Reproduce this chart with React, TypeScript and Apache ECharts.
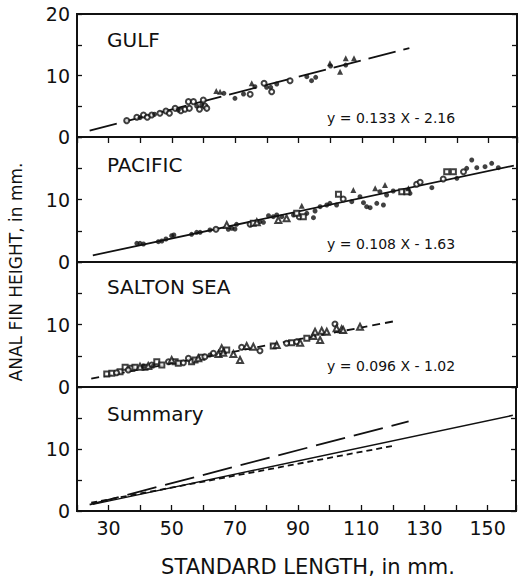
import React, { useEffect, useRef } from "react";
import * as echarts from "echarts";

// ---------- data ----------
const panelTitles = ["GULF", "PACIFIC", "SALTON SEA", "Summary"];
const equations = ["y = 0.133 X - 2.16", "y = 0.108 X - 1.63", "y = 0.096 X - 1.02"];
const xTickLabels = [30, 50, 70, 90, 110, 130, 150];

const gulfOpenCircles = [[35.7,2.66],[38.9,3.2],[41.0,3.58],[42.2,3.2],[43.6,3.58],[46.2,3.85],[48.1,4.23],[49.2,3.85],[51.0,4.66],[52.8,4.28],[54.1,4.5],[55.5,4.66],[55.2,5.75],[56.8,5.75],[58.7,4.5],[59.9,6.0],[60.4,5.04],[61.0,4.66],[74.7,6.94],[79.1,8.73],[81.5,7.37],[87.3,9.16]];
const gulfFilledCircles = [[39.9,3.14],[44.5,3.7],[52.0,4.39],[57.8,5.04],[59.4,5.2],[66.4,7.1],[69.9,6.29],[72.6,6.99],[76.2,8.18],[79.9,8.08],[81.2,8.08],[83.1,8.62],[92.6,9.81],[94.1,9.16],[95.4,9.7],[100.1,11.54],[104.9,11.7]];
const gulfFilledTriangles = [[64.0,7.5],[65.2,7.37],[75.2,8.73],[99.9,11.98],[103.1,10.6],[104.9,12.79],[107.5,12.79]];

const pacFilledCircles = [[38.9,2.99],[39.9,2.99],[41.0,2.88],[45.7,3.25],[46.8,3.36],[48.1,3.68],[49.9,4.21],[50.6,4.32],[56.2,4.43],[57.8,4.75],[58.9,4.75],[62.0,5.12],[67.8,5.23],[68.9,5.39],[69.9,5.28],[70.4,6.03],[77.8,6.45],[78.9,6.35],[80.5,7.41],[82.0,7.25],[83.1,7.52],[84.7,7.25],[88.4,7.52],[92.6,7.79],[94.7,7.09],[95.2,8.16],[96.8,8.85],[98.9,9.12],[99.9,9.39],[102.0,9.12],[106.8,9.65],[109.4,10.45],[110.5,9.49],[111.5,8.85],[112.6,8.69],[114.7,9.39],[115.7,11.25],[116.8,9.12],[117.8,10.72],[119.9,11.36],[125.2,10.99],[132.1,11.89],[140.0,13.39],[143.1,14.99],[144.7,16.32],[146.3,15.09],[148.9,15.25],[151.0,15.79],[153.1,15.09]];
const pacOpenCircles = [[63.9,5.23],[74.7,6.03],[90.2,7.25],[104.1,10.08],[127.3,12.43],[128.4,12.75],[135.7,13.28],[142.1,14.45]];
const pacOpenSquares = [[75.7,6.19],[89.4,7.79],[91.5,7.25],[102.6,10.83],[122.6,11.25],[124.2,11.25],[136.8,14.45],[138.9,14.45]];
const pacFilledTriangles = [[91.0,9.01],[107.3,11.52],[114.2,11.79],[117.3,12.32],[124.7,11.79]];
const pacOpenTriangles = [[67.3,5.92],[76.8,6.35],[83.6,6.72],[86.2,6.99]];

const saltonOpenSquares = [[29.4,2.08],[31.0,2.19],[33.6,2.45],[35.2,3.15],[37.3,2.99],[38.3,3.15],[41.5,3.15],[45.2,4.05],[46.8,3.52],[51.0,4.05],[52.0,3.79],[56.2,4.05],[57.3,4.32],[59.4,4.75],[67.3,5.92],[82.0,6.56],[87.8,7.09],[92.6,7.79]];
const saltonOpenCircles = [[32.5,2.29],[36.2,2.72],[43.6,3.52],[48.9,4.05],[53.6,3.89],[55.2,4.59],[60.4,4.85],[63.1,5.39],[72.0,6.35],[77.8,5.81],[86.2,6.99],[89.4,7.25],[101.5,10.08]];
const saltonOpenTriangles = [[39.9,3.25],[42.5,3.36],[49.9,4.32],[58.3,4.59],[64.7,5.28],[65.7,6.19],[66.2,5.49],[69.4,5.28],[71.5,4.32],[73.6,6.56],[75.7,6.45],[83.1,6.72],[90.5,7.09],[94.7,8.16],[95.2,8.85],[96.8,7.52],[97.3,9.01],[98.9,8.85],[102.0,9.39],[103.6,9.23],[104.1,9.12],[109.4,9.65]];
const saltonFilledCircles = [[41.0,3.36],[44.1,3.36],[62.0,5.12]];

const gulfLine = [[24, 1.03], [125, 14.47]];
const pacificLine = [[25, 1.07], [158, 15.43]];
const saltonLine = [[24.5, 1.33], [120, 10.5]];

// ---------- layout ----------
const FONT = "DejaVu Sans";
const INK = "#111111";
const panels = [
  { top: 14, height: 123 },
  { top: 137, height: 125 },
  { top: 262, height: 125 },
  { top: 387, height: 124 },
];

export default function App() {
  const ref = useRef<HTMLDivElement>(null);
  useEffect(() => {
    if (!ref.current) return;
    const chart = echarts.init(ref.current, undefined, { renderer: "svg" });

    const grid = panels.map((p) => ({
      left: 77, width: 440, top: p.top, height: p.height,
      show: true, borderColor: INK, borderWidth: 2, backgroundColor: "transparent",
    }));

    const xAxis: any[] = panels.map((_, i) => ({
      gridIndex: i, type: "value", min: 20, max: 159, interval: 10,
      axisLine: { show: false }, splitLine: { show: false },
      axisTick: { show: i === 3, inside: true, length: 6, lineStyle: { color: INK, width: 1.3 } },
      axisLabel: {
        show: i === 3, margin: 7, color: INK, fontFamily: FONT, fontSize: 19,
        formatter: (v: number) => (xTickLabels.includes(v) ? String(v) : ""),
      },
    }));
    xAxis.push({
      gridIndex: 0, type: "value", position: "top", min: 20, max: 159, interval: 10,
      axisLine: { show: false }, splitLine: { show: false },
      axisTick: { show: true, inside: true, length: 6, lineStyle: { color: INK, width: 1.3 } },
      axisLabel: { show: false },
    });

    const yAxis: any[] = [];
    panels.forEach((_, i) => {
      yAxis.push({
        gridIndex: i, type: "value", min: 0, max: 20, interval: 5, position: "left",
        axisLine: { show: false }, splitLine: { show: false },
        axisTick: { show: true, inside: true, length: 5, lineStyle: { color: INK, width: 1.3 } },
        axisLabel: {
          margin: 7, color: INK, fontFamily: FONT, fontSize: 19,
          formatter: (v: number) => (v === 0 ? "0" : v === 10 ? "10" : v === 20 && i === 0 ? "20" : ""),
        },
      });
    });
    panels.forEach((_, i) => {
      yAxis.push({
        gridIndex: i, type: "value", min: 0, max: 20, interval: 5, position: "right",
        axisLine: { show: false }, splitLine: { show: false },
        axisTick: { show: true, inside: true, length: 5, lineStyle: { color: INK, width: 1.3 } },
        axisLabel: { show: false },
      });
    });

    const scatter = (data: number[][], idx: number, symbol: string, size: number) => ({
      type: "scatter", xAxisIndex: idx, yAxisIndex: idx, data, symbol, symbolSize: size,
      itemStyle: { color: INK, borderColor: INK, borderWidth: symbol.startsWith("empty") ? 1 : 0 },
      z: 3,
    });
    const line = (data: number[][], idx: number, dash: any, width = 1.8) => ({
      type: "line", xAxisIndex: idx, yAxisIndex: idx, data, symbol: "none",
      lineStyle: { color: INK, width, type: dash }, z: 2,
    });

    const series = [
      line(gulfLine, 0, [28, 8]),
      scatter(gulfOpenCircles, 0, "emptyCircle", 5),
      scatter(gulfFilledCircles, 0, "circle", 5),
      scatter(gulfFilledTriangles, 0, "triangle", 6),

      line(pacificLine, 1, "solid"),
      scatter(pacFilledCircles, 1, "circle", 5),
      scatter(pacOpenCircles, 1, "emptyCircle", 5),
      scatter(pacOpenSquares, 1, "emptyRect", 5),
      scatter(pacFilledTriangles, 1, "triangle", 6),
      scatter(pacOpenTriangles, 1, "emptyTriangle", 6),

      line(saltonLine, 2, [8, 5]),
      scatter(saltonOpenSquares, 2, "emptyRect", 5),
      scatter(saltonOpenCircles, 2, "emptyCircle", 5),
      scatter(saltonOpenTriangles, 2, "emptyTriangle", 6),
      scatter(saltonFilledCircles, 2, "circle", 5),

      line(gulfLine, 3, [30, 9]),
      line(pacificLine, 3, "solid", 1.5),
      line(saltonLine, 3, [6, 4]),
    ];

    const titleTops = [33, 158, 280, 407];
    const eqTops = [112, 238, 360];
    const graphic: any[] = [];
    panelTitles.forEach((t, i) => {
      graphic.push({
        type: "text", left: 107, top: titleTops[i] - 3,
        style: { text: t, fill: INK, font: `20px "${FONT}"` },
      });
    });
    equations.forEach((t, i) => {
      graphic.push({
        type: "text", left: 327, top: eqTops[i] - 1,
        style: { text: t, fill: INK, font: `14px "${FONT}"` },
      });
    });
    graphic.push({
      type: "text", x: 16, y: 272, rotation: Math.PI / 2,
      style: { text: "ANAL FIN HEIGHT, in mm.", fill: INK, font: `17px "${FONT}"`, align: "center", verticalAlign: "middle" },
    });
    graphic.push({
      type: "text", x: 308, y: 567,
      style: { text: "STANDARD LENGTH, in mm.", fill: INK, font: `21px "${FONT}"`, align: "center", verticalAlign: "middle" },
    });

    chart.setOption({
      animation: false,
      backgroundColor: "#ffffff",
      grid, xAxis, yAxis, series, graphic,
    });
    return () => chart.dispose();
  }, []);

  return <div ref={ref} style={{ position: "fixed", left: 0, top: 0, width: 519, height: 579 }} />;
}
